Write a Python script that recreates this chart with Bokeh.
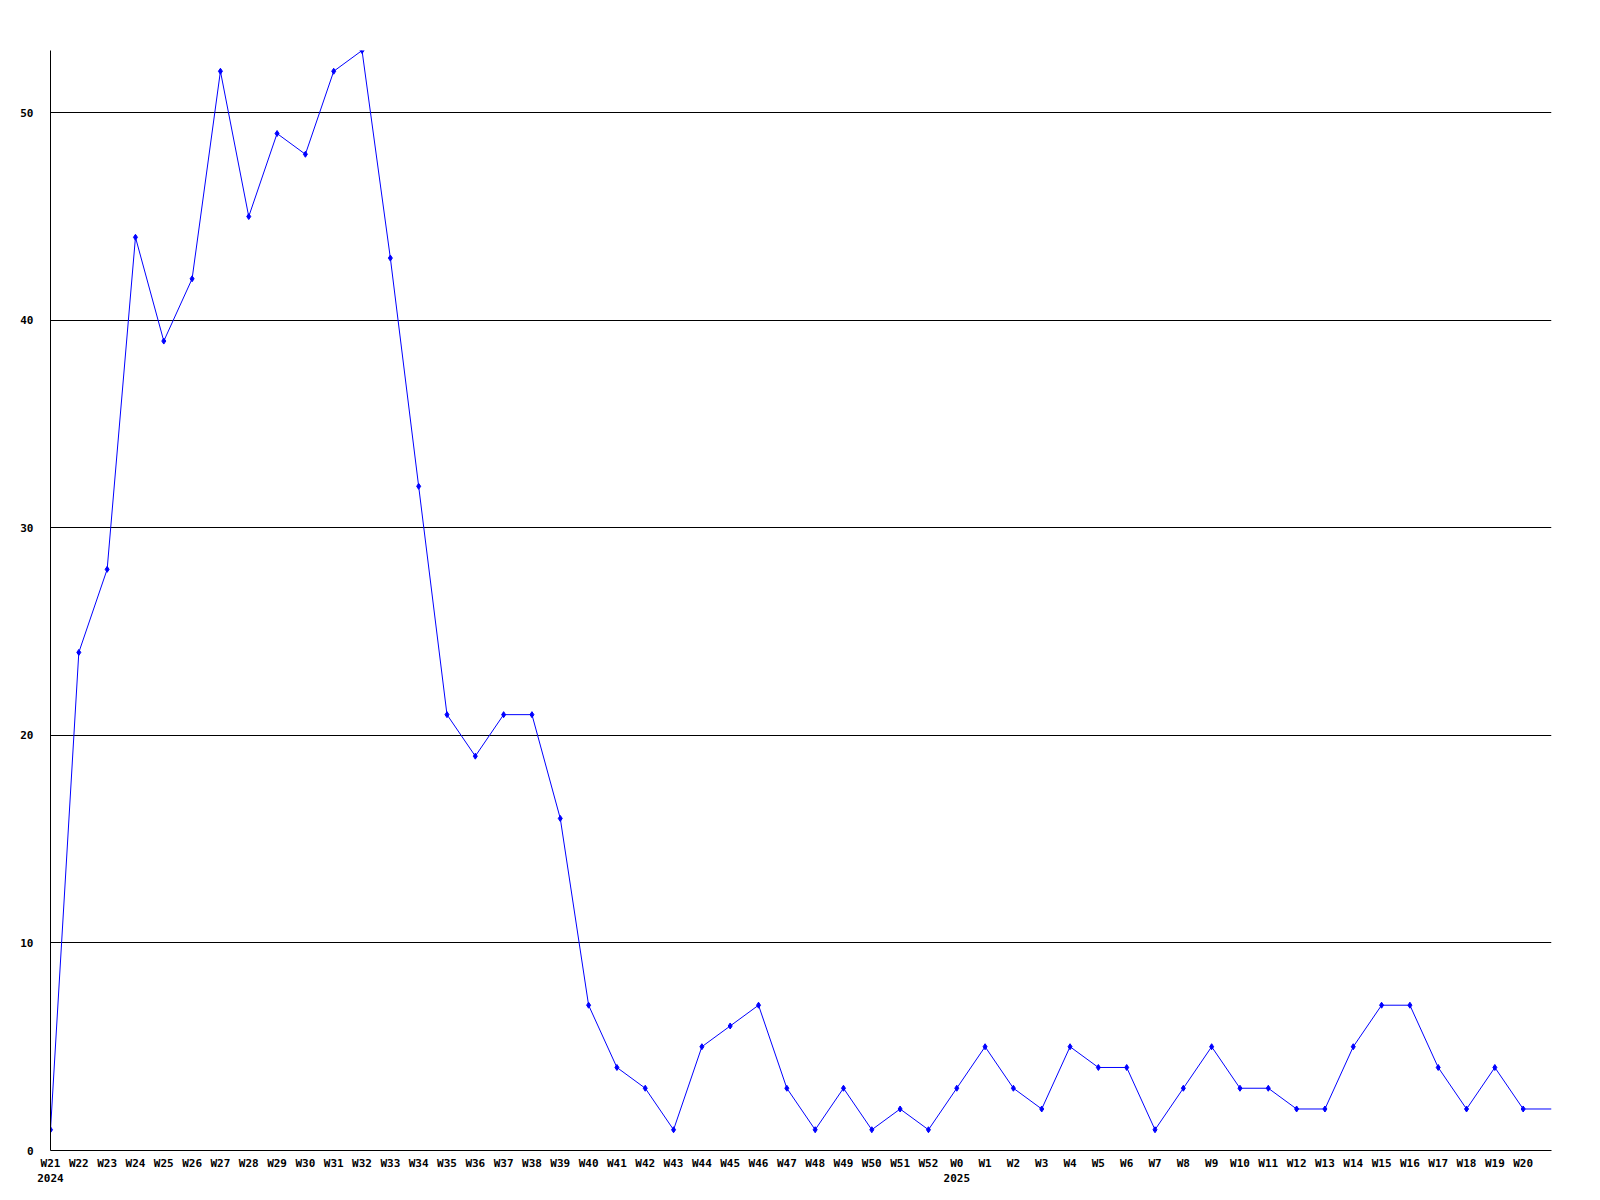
from bokeh.plotting import figure
from bokeh.models import FixedTicker, LinearAxis, Range1d, Grid
from bokeh.embed import file_html
from bokeh.resources import INLINE

weeks = ["W21", "W22", "W23", "W24", "W25", "W26", "W27", "W28", "W29", "W30",
         "W31", "W32", "W33", "W34", "W35", "W36", "W37", "W38", "W39", "W40",
         "W41", "W42", "W43", "W44", "W45", "W46", "W47", "W48", "W49", "W50",
         "W51", "W52", "W0", "W1", "W2", "W3", "W4", "W5", "W6", "W7", "W8",
         "W9", "W10", "W11", "W12", "W13", "W14", "W15", "W16", "W17", "W18",
         "W19", "W20", ""]
counts = [1, 24, 28, 44, 39, 42, 52, 45, 49, 48,
          52, 53, 43, 32, 21, 19, 21, 21, 16, 7,
          4, 3, 1, 5, 6, 7, 3, 1, 3, 1,
          2, 1, 3, 5, 3, 2, 5, 4, 4, 1, 3,
          5, 3, 3, 2, 2, 5, 7, 7, 4, 2,
          4, 2, 2]
years = {0: "2024", 32: "2025"}
y_ticks = [0, 10, 20, 30, 40, 50]

FONT = "DejaVu Sans Mono"

xs = list(range(len(counts)))

p = figure(width=1588, height=1184, output_backend="svg", toolbar_location=None,
           x_range=Range1d(0, len(counts) - 1), y_range=Range1d(0, 53),
           x_axis_location=None, y_axis_location=None,
           min_border_left=50, min_border_top=50, min_border_right=37,
           min_border_bottom=30)
p.outline_line_color = None
p.background_fill_color = "white"
p.border_fill_color = "white"

def style(ax):
    ax.major_tick_line_color = None
    ax.minor_tick_line_color = None
    ax.major_label_text_font = FONT
    ax.major_label_text_font_style = "bold"
    ax.major_label_text_font_size = "11px"
    ax.major_label_text_color = "black"

# y axis
yax = LinearAxis(ticker=FixedTicker(ticks=y_ticks))
style(yax)
yax.axis_line_color = "black"
yax.major_label_standoff = 11
p.add_layout(yax, "left")

# x axis (week labels)
wk_ticks = [i for i in range(len(weeks)) if weeks[i]]
xax = LinearAxis(ticker=FixedTicker(ticks=wk_ticks),
                 major_label_overrides={i: weeks[i] for i in wk_ticks})
style(xax)
xax.axis_line_color = "black"
xax.major_label_standoff = 0
p.add_layout(xax, "below")

# year axis
yrax = LinearAxis(ticker=FixedTicker(ticks=list(years.keys())),
                  major_label_overrides=dict(years))
style(yrax)
yrax.axis_line_color = None
yrax.major_label_standoff = -5
p.add_layout(yrax, "below")

p.xgrid.visible = False
p.ygrid.visible = False
g = Grid(dimension=1, ticker=FixedTicker(ticks=[t for t in y_ticks if t > 0]),
         grid_line_color="black", grid_line_width=1)
p.add_layout(g)

p.line(xs, counts, line_color="#0000ff", line_width=1)
p.scatter(xs[:len(weeks) - 1], counts[:len(weeks) - 1], marker="diamond", size=6,
          fill_color="#0000ff", line_color="#0000ff")

open("out.html", "w").write(file_html(p, INLINE))
